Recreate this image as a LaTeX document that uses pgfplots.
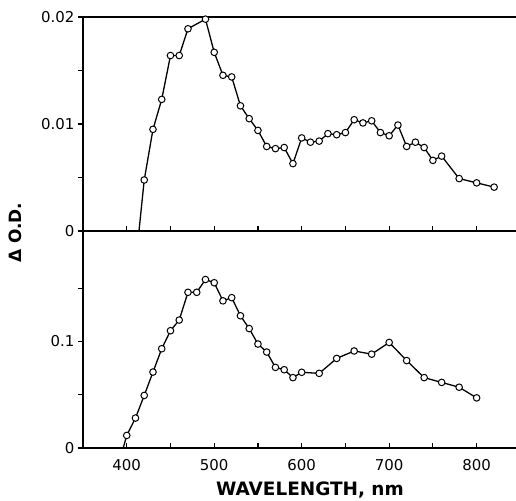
\documentclass[border=0pt]{standalone}
\usepackage{pgfplots}
\pgfplotsset{compat=1.18}
\usepackage{fontspec}
\setmainfont{DejaVu Sans}

\begin{document}
\begin{tikzpicture}
\pgfplotsset{
  panel/.style={
    scale only axis, width=433bp,
    xmin=350, xmax=845,
    axis x line=box, axis y line=left,
    axis line style={-, line width=1.4bp},
    xtick={400,500,600,700,800},
    minor xtick={450,550,650,750,850},
    xtick pos=bottom, ytick pos=left,
    tick align=outside,
    major tick length=5bp, minor tick length=5bp,
    tick style={line width=1.1bp, black},
    x tick style={yshift=5bp},
    scaled y ticks=false,
    tick label style={font=\fontsize{15}{15}\selectfont},
    /pgf/number format/assume math mode=true,
    clip=false,
  },
  spec/.style={black, line width=1.3bp, mark=*, mark size=3.3bp,
    mark options={fill=white, draw=black, line width=1bp}},
}
\begin{axis}[panel, name=top, height=214bp,
  ymin=0, ymax=0.02,
  ytick={0,0.01,0.02}, yticklabels={0,0.01,0.02},
  minor ytick={0.005,0.015},
  xticklabels={}]
\addplot[black, line width=1.3bp] coordinates {(414,0) (420,0.00477)};
\addplot[spec] coordinates {
 (420,0.00477) (430,0.0095) (440,0.0123) (450,0.0164) (460,0.0164)
 (470,0.0189) (490,0.0198) (500,0.0167) (510,0.01455) (520,0.0144)
 (530,0.0117) (540,0.0105) (550,0.0094) (560,0.0079) (570,0.0077)
 (580,0.0078) (590,0.0063) (600,0.0087) (610,0.0083) (620,0.0084)
 (630,0.0091) (640,0.0090) (650,0.0092) (660,0.0104) (670,0.0101)
 (680,0.0103) (690,0.0092) (700,0.0089) (710,0.0099) (720,0.0079)
 (730,0.0083) (740,0.0078) (750,0.0066) (760,0.0070) (780,0.0049)
 (800,0.0045) (820,0.0041)
};
\end{axis}
\begin{axis}[panel, name=bot, at={(top.south west)}, anchor=north west,
  height=217bp,
  ymin=0, ymax=0.2035,
  ytick={0,0.1}, yticklabels={0,0.1},
  minor ytick={0.05,0.15},
  xticklabel shift=3bp]
\addplot[black, line width=1.3bp] coordinates {(396,0) (400,0.0118)};
\addplot[spec] coordinates {
 (400,0.0118) (410,0.0281) (420,0.0493) (430,0.0712) (440,0.0931)
 (450,0.110) (460,0.120) (470,0.146) (480,0.146) (490,0.158)
 (500,0.155) (510,0.138) (520,0.141) (530,0.124) (540,0.112)
 (550,0.0975) (560,0.090) (570,0.0756) (580,0.0734) (590,0.066)
 (600,0.071) (620,0.070) (640,0.084) (660,0.091) (680,0.088)
 (700,0.099) (720,0.082) (740,0.066) (760,0.0615) (780,0.057)
 (800,0.047)
};
\end{axis}
\node[rotate=90, font=\fontsize{17}{17}\selectfont\bfseries]
  at ([xshift=-68bp,yshift=-2bp]top.south west) {Δ O.D.};
\node[font=\fontsize{18.5}{18.5}\selectfont\bfseries]
  at ([xshift=227bp,yshift=-42bp]bot.south west) {WAVELENGTH, nm};
\pgfresetboundingbox
\path[use as bounding box] ([xshift=-83bp,yshift=-53bp]bot.south west)
  rectangle ([yshift=17bp]top.north east);
\end{tikzpicture}
\end{document}
